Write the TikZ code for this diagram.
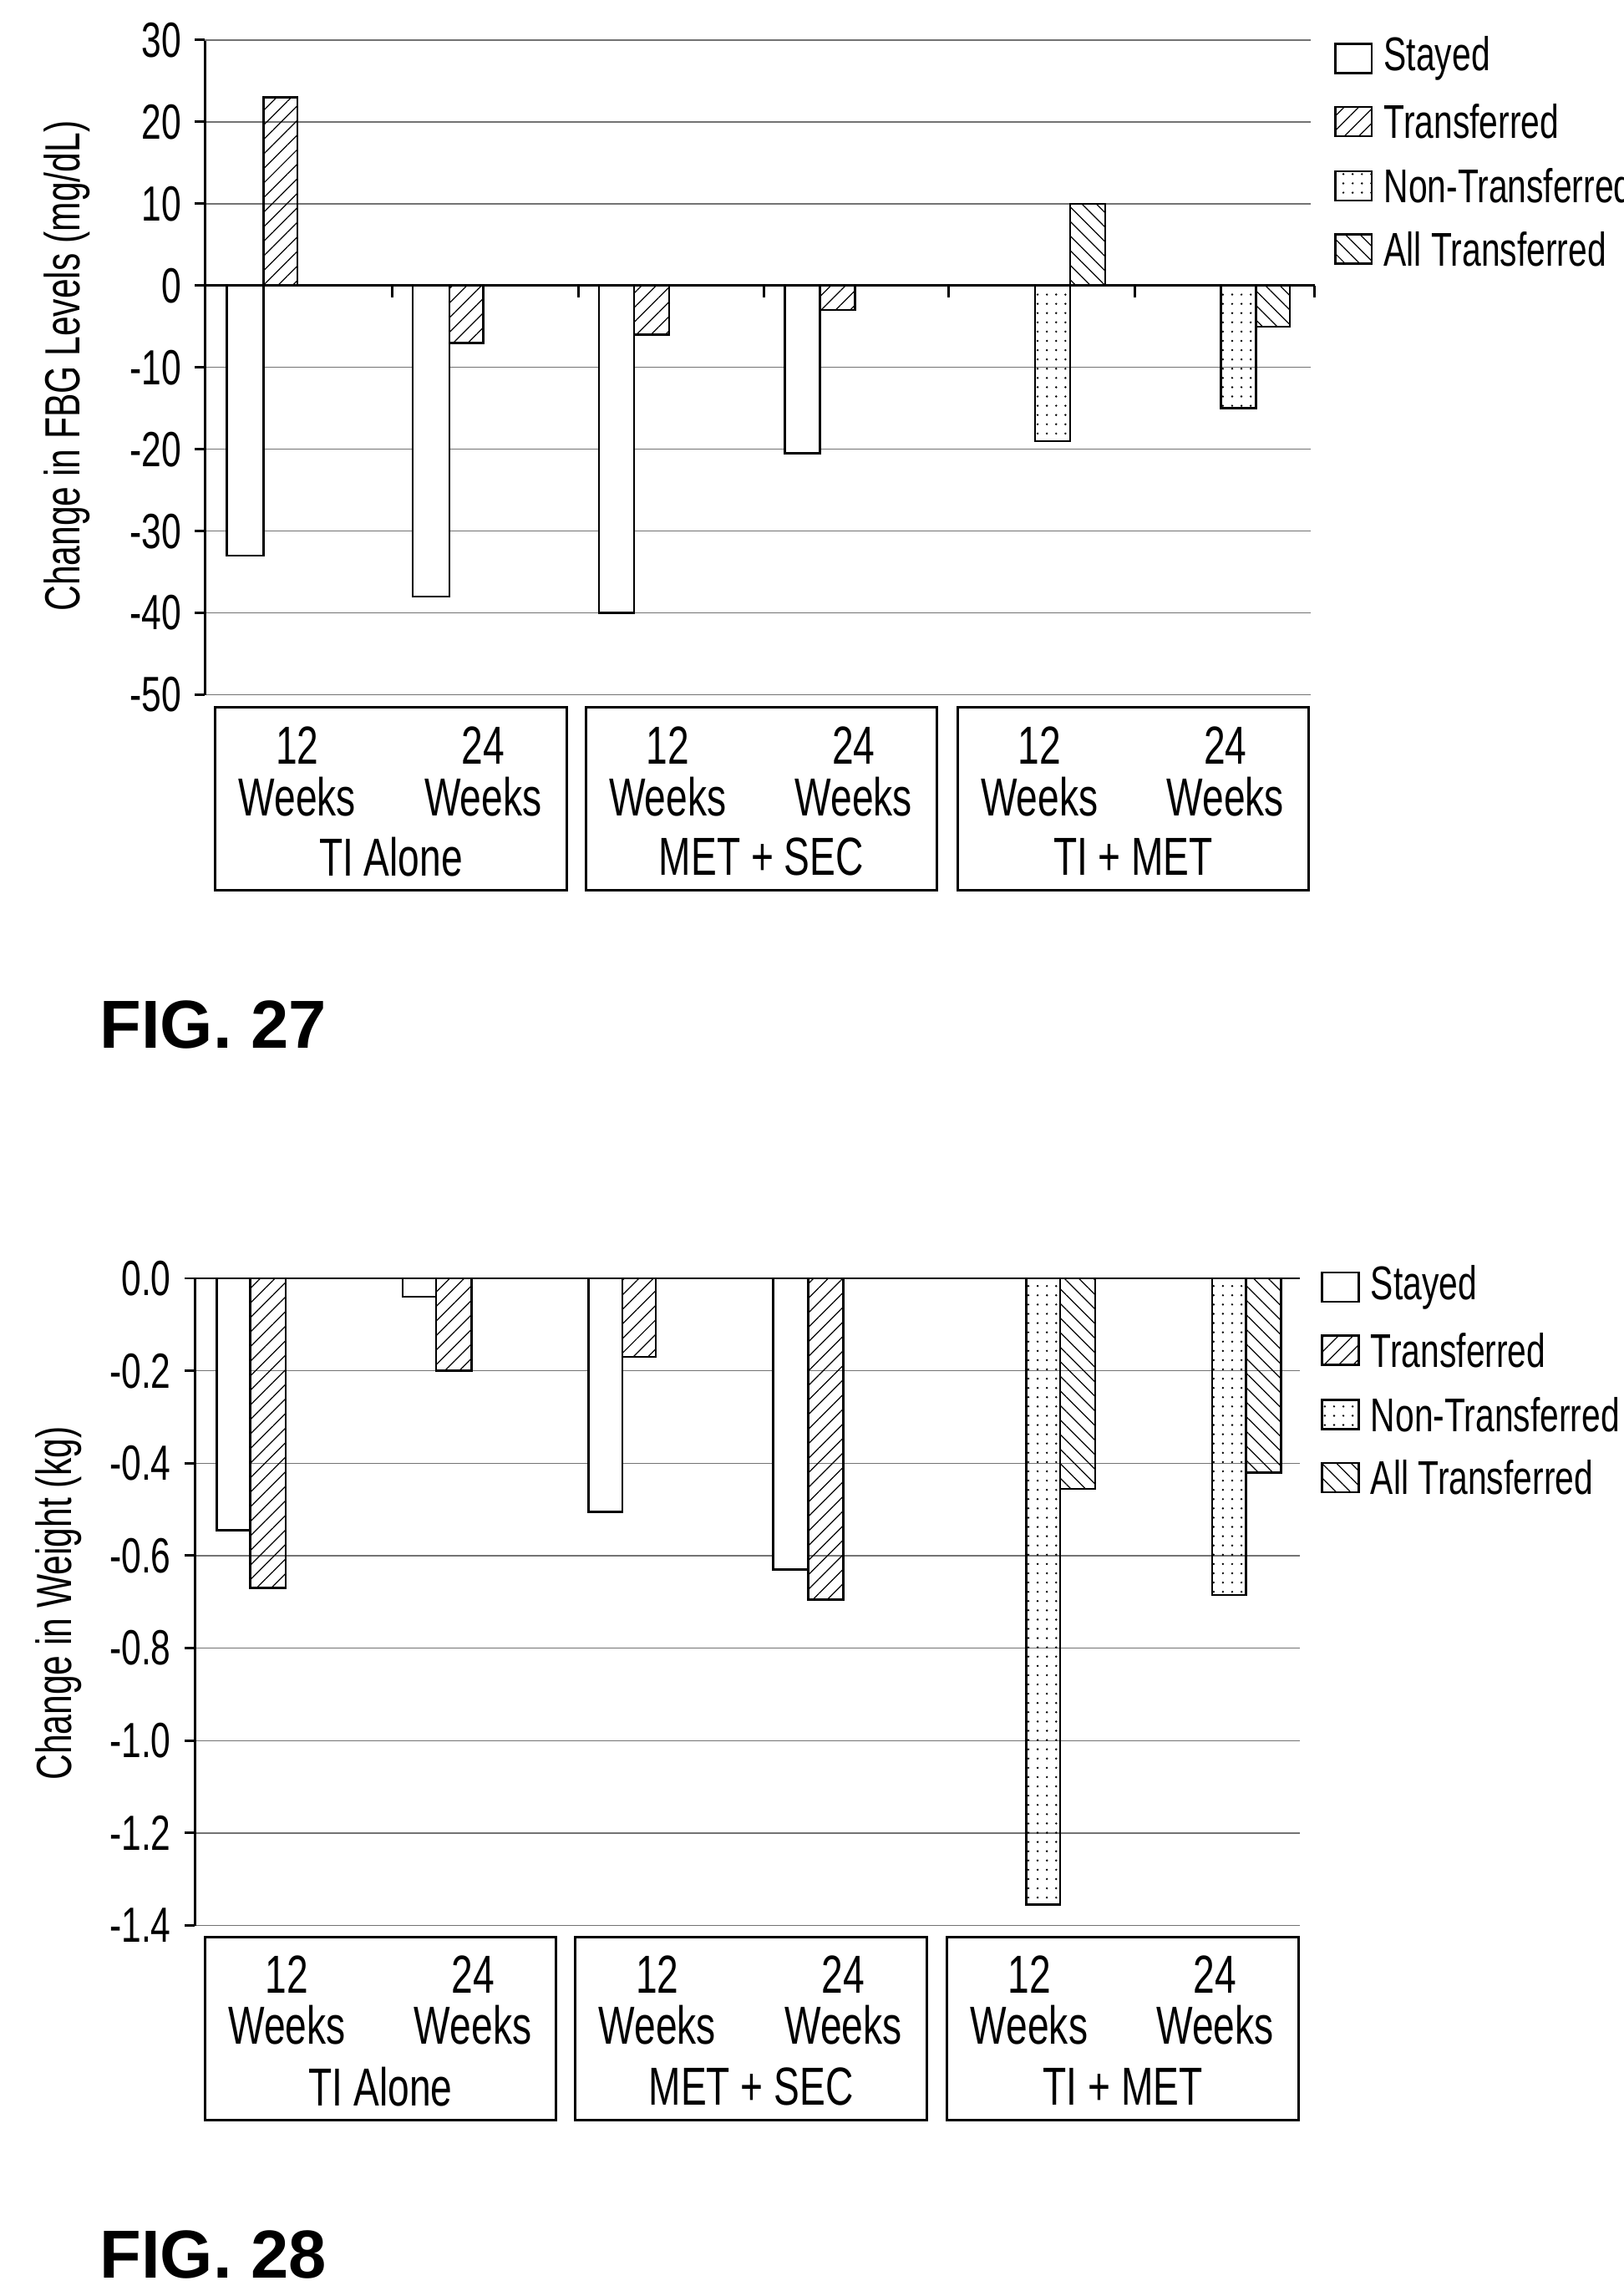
\documentclass[tikz,border=0pt]{standalone}
\usepackage{fontspec}
\setmainfont{Liberation Sans}[FakeStretch=0.72]
\newfontfamily\figfont{Liberation Sans}
\usetikzlibrary{patterns.meta}
\tikzset{
  stayed/.style = {draw, fill=white, line width=1pt},
  transf/.style = {draw, line width=1pt, pattern={Lines[angle=45,distance=5pt,line width=0.5pt]}},
  nontransf/.style = {draw, line width=1pt, pattern={Dots[distance=4.5pt,radius=0.55pt]}},
  alltransf/.style = {draw, line width=1pt, pattern={Lines[angle=-45,distance=5pt,line width=0.5pt]}},
  gridline/.style = {black!55, line width=0.6pt},
  axisline/.style = {black, line width=1.2pt},
  ticklab/.style = {anchor=east, inner sep=0pt, font=\fontsize{24}{24}\selectfont},
  catbox/.style = {draw, line width=1.2pt},
  cattext/.style = {align=center, inner sep=0pt, font=\fontsize{26}{25}\selectfont},
  legtext/.style = {anchor=west, inner sep=0pt, font=\fontsize{23}{23}\selectfont},
  figlab/.style = {anchor=west, inner sep=0pt, font=\figfont\bfseries\fontsize{33}{33}\selectfont},
}
\begin{document}
\begin{tikzpicture}[x=0.025cm, y=-0.025cm]
  \useasboundingbox (0,0) rectangle (1109,1568);
  % FIG. 27
  \foreach \v in {30,20,...,-50} {
    \draw[gridline] (140,{195-5.59*\v}) -- (895,{195-5.59*\v});
    \draw[axisline] (133,{195-5.59*\v}) -- (140,{195-5.59*\v});
    \node[ticklab] at (124,{195-5.59*\v}) {\v};
  }
  \draw[axisline] (140,28) -- (140,475);
  \draw[axisline] (140,195) -- (898,195);
  \foreach \x in {268,395,522,648,775,898}
    \draw[axisline] (\x,195) -- (\x,203);
  \foreach \xa/\xb/\v/\s in {155/180/-33/stayed, 180/203/23/transf,
      282/307/-38/stayed, 307/330/-7/transf, 409/433/-40/stayed, 433/457/-6/transf,
      536/560/-20.5/stayed, 560/584/-3/transf, 707/731/-19/nontransf, 731/755/10/alltransf,
      834/858/-15/nontransf, 858/881/-5/alltransf}
    \draw[\s] (\xa,195) rectangle (\xb,{195-5.59*\v});
  \node[rotate=90, font=\fontsize{24}{24}\selectfont] at (46,250) {Change in FBG Levels (mg/dL)};
  \foreach \xa/\xb/\g in {147/387/TI Alone, 400/640/MET + SEC, 654/894/TI + MET} {
    \draw[catbox] (\xa,483) rectangle (\xb,608);
    \node[cattext] at ({\xa+56},527) {12\\Weeks};
    \node[cattext] at ({\xa+183},527) {24\\Weeks};
    \node[cattext] at ({(\xa+\xb)/2},585) {\g};
  }
  \foreach \y/\s/\t in {40/stayed/Stayed, 83/transf/Transferred, 127/nontransf/Non-Transferred, 170/alltransf/All Transferred} {
    \draw[\s] (912,{\y-10}) rectangle (937,{\y+10});
    \node[legtext] at (945,\y) {\t};
  }
  \node[figlab] at (68,700) {FIG. 27};
  % FIG. 28
  \foreach \v/\l in {0/0.0,-0.2/-0.2,-0.4/-0.4,-0.6/-0.6,-0.8/-0.8,-1.0/-1.0,-1.2/-1.2,-1.4/-1.4} {
    \draw[gridline] (133,{873-315.7*\v}) -- (888,{873-315.7*\v});
    \draw[axisline] (126,{873-315.7*\v}) -- (133,{873-315.7*\v});
    \node[ticklab] at (117,{873-315.7*\v}) {\l};
  }
  \draw[axisline] (133,873) -- (133,1315);
  \draw[axisline] (133,873) -- (888,873);
  \foreach \xa/\xb/\v/\s in {148/171/-0.545/stayed, 171/195/-0.67/transf,
      275/298/-0.04/stayed, 298/322/-0.2/transf, 402/425/-0.505/stayed, 425/448/-0.17/transf,
      528/552/-0.63/stayed, 552/576/-0.695/transf, 701/724/-1.355/nontransf, 724/748/-0.455/alltransf,
      828/851/-0.685/nontransf, 851/875/-0.42/alltransf}
    \draw[\s] (\xa,873) rectangle (\xb,{873-315.7*\v});
  \node[rotate=90, font=\fontsize{24}{24}\selectfont] at (40,1095) {Change in Weight (kg)};
  \foreach \xa/\xb/\g in {140/380/TI Alone, 393/633/MET + SEC, 647/887/TI + MET} {
    \draw[catbox] (\xa,1323) rectangle (\xb,1448);
    \node[cattext] at ({\xa+56},1366) {12\\Weeks};
    \node[cattext] at ({\xa+183},1366) {24\\Weeks};
    \node[cattext] at ({(\xa+\xb)/2},1425) {\g};
  }
  \foreach \y/\s/\t in {879/stayed/Stayed, 922/transf/Transferred, 966/nontransf/Non-Transferred, 1009/alltransf/All Transferred} {
    \draw[\s] (903,{\y-10}) rectangle (928,{\y+10});
    \node[legtext] at (936,\y) {\t};
  }
  \node[figlab] at (68,1540) {FIG. 28};
\end{tikzpicture}
\end{document}
